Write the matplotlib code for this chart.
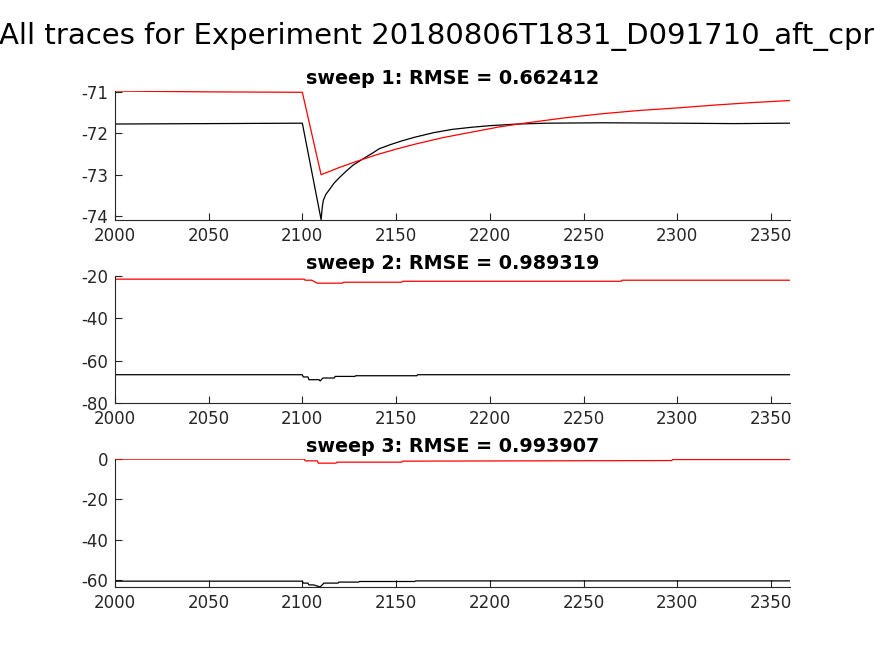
import matplotlib
matplotlib.use("Agg")
import matplotlib.pyplot as plt

plt.rcParams["axes.unicode_minus"] = False

# sweep 1 (times in ms, voltage in mV)
t1_data = [2000, 2050, 2100, 2110, 2110.6, 2111.2, 2112.5, 2114.8, 2117, 2120, 2123, 2127, 2130.5,
           2134, 2138, 2141, 2147, 2153, 2160, 2170, 2180, 2190, 2200, 2215, 2230, 2260, 2300,
           2330, 2360]
v1_data = [-71.77, -71.76, -71.75, -74.09, -73.8, -73.62, -73.48, -73.34, -73.2, -73.06, -72.93,
           -72.77, -72.67, -72.57, -72.46, -72.37, -72.27, -72.18, -72.09, -71.98, -71.9, -71.85,
           -71.81, -71.77, -71.75, -71.74, -71.75, -71.76, -71.75]
t1_fit = [2000, 2050, 2100, 2110, 2120, 2130, 2140, 2150, 2160, 2175, 2190, 2205, 2220, 2240,
          2260, 2280, 2300, 2320, 2340, 2360]
v1_fit = [-70.97, -70.99, -71.0, -73.0, -72.82, -72.66, -72.51, -72.38, -72.26, -72.1, -71.97,
          -71.84, -71.74, -71.62, -71.52, -71.44, -71.38, -71.31, -71.25, -71.2]

# sweep 2
t2_data = [2000, 2100, 2100.5, 2103, 2103.5, 2109, 2109.5, 2111, 2111.5, 2117, 2117.5, 2128,
           2128.5, 2161, 2161.5, 2360]
v2_data = [-66.65, -66.65, -67.7, -67.7, -69.0, -69.0, -69.6, -68.2, -68.2, -68.2, -67.45, -67.45,
           -67.13, -67.13, -66.65, -66.65]
t2_fit = [2000, 2101, 2101.5, 2105, 2108, 2121.5, 2122, 2153, 2153.5, 2270, 2270.5, 2360]
v2_fit = [-21.5, -21.5, -22.0, -22.0, -23.4, -23.4, -22.95, -22.95, -22.5, -22.5, -22.0, -22.0]

# sweep 3
t3_data = [2000, 2100, 2100.5, 2103, 2103.5, 2106, 2109.5, 2111, 2111.5, 2119, 2119.5, 2130,
           2130.5, 2160, 2160.5, 2360]
v3_data = [-60.64, -60.64, -61.6, -61.6, -62.5, -62.5, -63.5, -62.1, -61.6, -61.6, -61.1, -61.1,
           -60.8, -60.8, -60.5, -60.5]
t3_fit = [2000, 2101, 2101.5, 2108, 2108.5, 2118, 2118.5, 2153, 2153.5, 2297, 2297.5, 2360]
v3_fit = [0.0, 0.0, -0.85, -0.85, -2.0, -2.0, -1.5, -1.5, -1.0, -0.7, -0.2, -0.2]

titles = ["sweep 1: RMSE = 0.662412", "sweep 2: RMSE = 0.989319", "sweep 3: RMSE = 0.993907"]
yticks = [[-71, -72, -73, -74], [-20, -40, -60, -80], [0, -20, -40, -60]]
ylims = [(-74.1, -70.97), (-80, -20), (-63.5, 0.1)]
xticks = [2000, 2050, 2100, 2150, 2200, 2250, 2300, 2350]

sweeps = [(t1_data, v1_data, t1_fit, v1_fit),
          (t2_data, v2_data, t2_fit, v2_fit),
          (t3_data, v3_data, t3_fit, v3_fit)]

# axes rectangles (left, bottom, width, height)
rects = [[0.1314, 0.6646, 0.7723, 0.1966],
         [0.1314, 0.3857, 0.7723, 0.1936],
         [0.1314, 0.1053, 0.7723, 0.1951]]

grey = (0.15, 0.15, 0.15)
fig = plt.figure(figsize=(8.74, 6.56), dpi=100)

for k in range(3):
    ax = fig.add_axes(rects[k])
    td, vd, tf, vf = sweeps[k]
    ax.plot(td, vd, color="black", lw=0.9)
    ax.plot(tf, vf, color="red", lw=0.9)
    ax.set_xlim(2000, 2360)
    ax.set_ylim(*ylims[k])
    ax.set_xticks(xticks)
    ax.set_yticks(yticks[k])
    ax.spines["top"].set_visible(False)
    ax.spines["right"].set_visible(False)
    for s in ["left", "bottom"]:
        ax.spines[s].set_color(grey)
        ax.spines[s].set_linewidth(0.8)
    ax.tick_params(direction="in", length=5, width=0.8, colors=grey,
                   labelsize=12, labelcolor=grey, pad=5)
    ax.set_title(titles[k], fontsize=13.8, fontweight="bold", pad=5)

fig.text(0.5, 0.945, "All traces for Experiment 20180806T1831_D091710_aft_cpr",
         ha="center", va="center", fontsize=21)

fig.savefig("out.png", dpi=100)
